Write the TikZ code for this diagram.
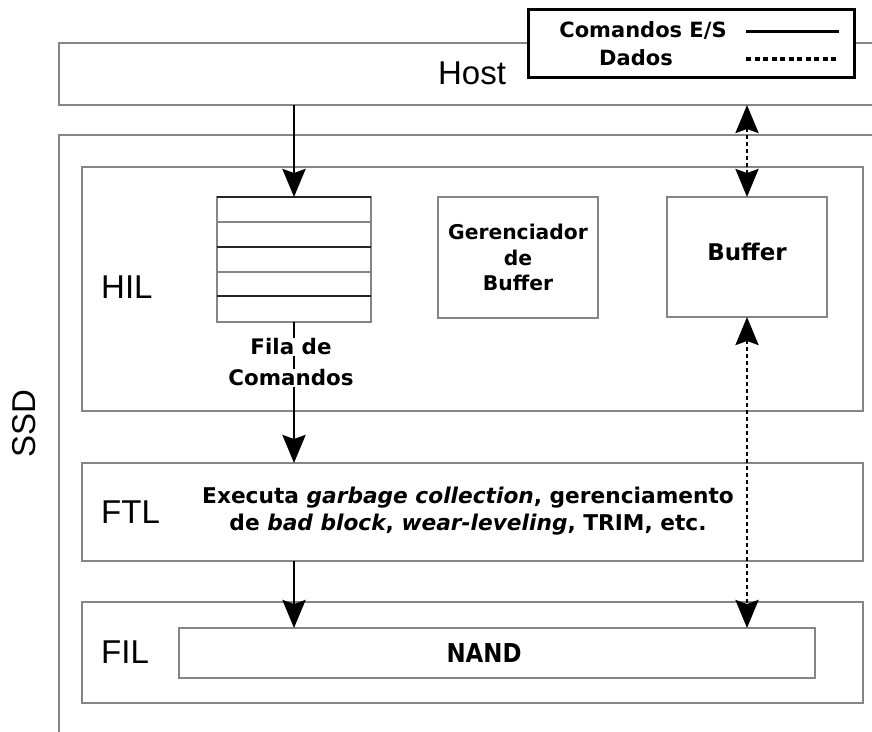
\documentclass[tikz,border=0pt]{standalone}
\usepackage{fontspec}
\setmainfont{DejaVu Sans}
\newfontfamily\labelfont{Liberation Sans}
\newfontfamily\condfont{DejaVu Sans}[FakeStretch=0.88]
\usetikzlibrary{arrows.meta,fit}
\definecolor{boxgray}{HTML}{858585}

\begin{document}
\begin{tikzpicture}[x=1pt,y=-1pt,
  frame/.style={draw=boxgray, line width=1.6pt, inner sep=0pt, outer sep=0pt},
  layername/.style={font=\labelfont\fontsize{33}{33}\selectfont, inner sep=0pt},
  boldtxt/.style={font=\bfseries\fontsize{21}{26}\selectfont, inner sep=1pt},
  cmd/.style={line width=2.8pt, -{Stealth[length=28pt,width=23pt,inset=4pt]}},
  data/.style={line width=2.8pt, dash pattern=on 4pt off 3pt,
    {Stealth[length=28pt,width=23pt,inset=4pt]}-{Stealth[length=28pt,width=23pt,inset=4pt]}},
]
\useasboundingbox (0,0) rectangle (872,731);
\clip (0,0) rectangle (872,731);

% host and SSD enclosures
\node[frame, fit={(59,43) (900,105)}] (host) {};
\node[layername] (hostlbl) at (472,73) {Host};
\node[frame, fit={(59,135) (900,780)}] (ssd) {};
\node[layername, rotate=90] (ssdlbl) at (24,424) {SSD};

% layers
\node[frame, fit={(82,167) (863,411)}] (hil) {};
\node[frame, fit={(82,463) (863,561)}] (ftl) {};
\node[frame, fit={(82,602) (863,703)}] (fil) {};
\node[layername, anchor=west] (hillbl) at (101,287) {HIL};
\node[layername, anchor=west] (ftllbl) at (101,512) {FTL};
\node[layername, anchor=west] (fillbl) at (101,652) {FIL};

% command queue
\node[frame, fit={(217,197) (371,322)}] (queue) {};
\foreach \yy in {222,272,322}
  \draw[boxgray, line width=1.6pt] (queue.west |- 0,\yy) -- (queue.east |- 0,\yy);
\foreach \yy in {197,247,296}
  \draw[black!85, line width=1.6pt] (queue.west |- 0,\yy) -- (queue.east |- 0,\yy);

% buffer manager and buffer
\node[frame, fit={(438,197) (598,318)}] (mgr) {};
\node[boldtxt, align=center, font=\bfseries\fontsize{20.3}{25.5}\selectfont] (mgrlbl) at (mgr.center) {Gerenciador\\de\\Buffer};
\node[frame, fit={(667,197) (827,317)}] (buffer) {};
\node[boldtxt, font=\bfseries\fontsize{23}{23}\selectfont] (buflbl) at (747,252) {Buffer};

% NAND array
\node[frame, fit={(179,628) (815,678)}] (nand) {};
\node[inner sep=0pt, font=\condfont\bfseries\fontsize{26}{26}\selectfont] (nandlbl) at (484,653) {NAND};

% command path
\draw[cmd] (queue.north |- host.south) -- (queue.north);
\draw[cmd] (queue.south) -- (queue.south |- ftl.north);
\draw[cmd] (queue.south |- ftl.south) -- (queue.south |- nand.north);

% data path
\draw[data] (buffer.north |- host.south) -- (buffer.north);
\draw[data] (buffer.south) -- (buffer.south |- nand.north);

% queue caption over the command line
\node[boldtxt, fill=white, inner sep=0.5pt, font=\bfseries\fontsize{21.4}{21.4}\selectfont] (fila1) at (291,347) {Fila de};
\node[boldtxt, fill=white, inner sep=1pt, font=\bfseries\fontsize{21.4}{21.4}\selectfont] (fila2) at (291,378) {Comandos};

% FTL description
\node[boldtxt, align=center, font=\bfseries\fontsize{21.7}{27}\selectfont] (ftltxt) at (468,511)
  {Executa \textit{garbage collection}, gerenciamento\\de \textit{bad block}, \textit{wear-leveling}, TRIM, etc.};

% legend
\node[draw=black, line width=3pt, fill=white, inner sep=0pt, fit={(528,9) (854,77)}] (legend) {};
\node[boldtxt] (legcmd) at (643,30) {Comandos E/S};
\node[boldtxt] (legdata) at (636,58) {Dados};
\coordinate (cmdA) at (746,31);
\coordinate (cmdB) at (839,31);
\coordinate (dataA) at (746,59);
\coordinate (dataB) at (839,59);
\draw[line width=3pt] (cmdA) -- (cmdB);
\draw[line width=3.2pt, dash pattern=on 5pt off 3.5pt] (dataA) -- (dataB);
\end{tikzpicture}
\end{document}
